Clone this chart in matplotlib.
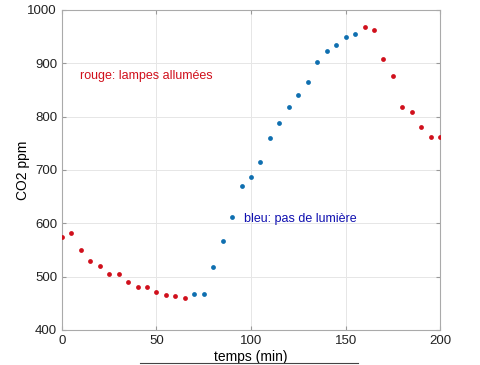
import numpy as np
import matplotlib
matplotlib.use("Agg")
import matplotlib.pyplot as plt
from matplotlib.lines import Line2D

# temps (min), pas de 5 min
t_rouge1 = [0, 5, 10, 15, 20, 25, 30, 35, 40, 45, 50, 55, 60, 65]
co2_rouge1 = [574, 581, 549, 530, 519, 504, 505, 490, 480, 480, 471, 466, 463, 459]

t_bleu = [70, 75, 80, 85, 90, 95, 100, 105, 110, 115, 120, 125, 130, 135, 140, 145, 150, 155]
co2_bleu = [468, 467, 518, 567, 611, 670, 686, 715, 760, 788, 817, 841, 864, 902, 922, 934, 950, 954]

t_rouge2 = [160, 165, 170, 175, 180, 185, 190, 195, 200]
co2_rouge2 = [967, 962, 907, 876, 817, 809, 781, 761, 761]

plt.rcParams['font.family'] = ['Liberation Sans', 'DejaVu Sans']

fig = plt.figure(figsize=(4.8, 3.65), dpi=100)
ax = fig.add_axes([0.129, 0.096, 0.788, 0.877])

rouge = '#d0101c'
bleu = '#0f6fb0'
ax.scatter(t_rouge1, co2_rouge1, s=12, color=rouge, zorder=3, linewidths=0)
ax.scatter(t_rouge2, co2_rouge2, s=12, color=rouge, zorder=3, linewidths=0)
ax.scatter(t_bleu, co2_bleu, s=12, color=bleu, zorder=3, linewidths=0)

ax.text(9.5, 876, "rouge: lampes allumées", color='#d0101c', fontsize=9, va='center')
ax.text(96.5, 608, "bleu: pas de lumière", color='#1010b0', fontsize=9, va='center')

ax.set_xlim(0, 200)
ax.set_ylim(400, 1000)
ax.set_xticks([0, 50, 100, 150, 200])
ax.set_yticks([400, 500, 600, 700, 800, 900, 1000])
ax.grid(True, color='#e6e6e6', linewidth=0.7)
ax.set_axisbelow(True)
ax.tick_params(direction='in', top=True, right=True, length=3, color='#999999',
               labelsize=9.5, labelcolor='#222222')
for s in ax.spines.values():
    s.set_color('#aaaaaa')
    s.set_linewidth(0.8)

ax.set_xlabel("temps (min)", fontsize=10, labelpad=2)
ax.set_ylabel("CO2 ppm", fontsize=10, labelpad=-2)

# trait sous le titre de l'axe
fig.add_artist(Line2D([140 / 480, 358 / 480], [1 - 363 / 365, 1 - 363 / 365],
                      color='#444444', linewidth=0.8))

fig.savefig("out.png", dpi=100)
